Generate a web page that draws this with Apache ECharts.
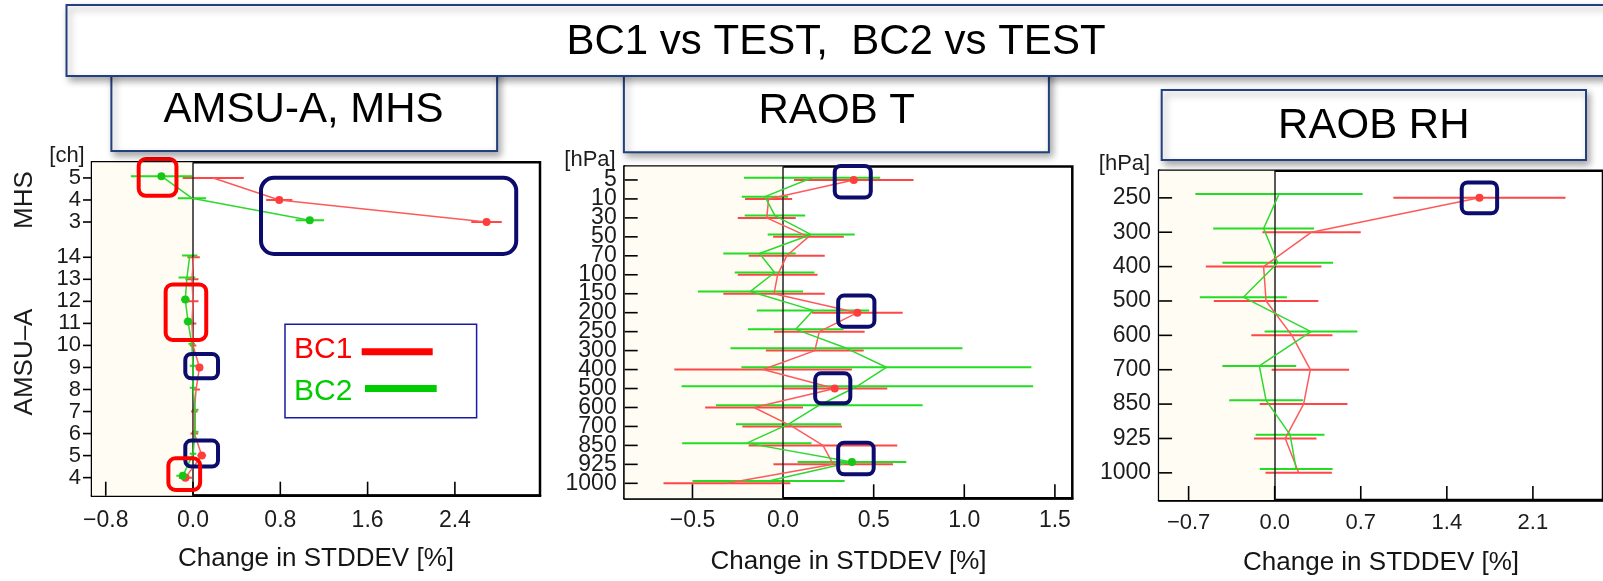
<!DOCTYPE html>
<html>
<head>
<meta charset="utf-8">
<script src="https://cdn.jsdelivr.net/npm/echarts@6/dist/echarts.min.js"></script>
<style>
  html, body { margin: 0; padding: 0; background: #fff; }
  #chart { width: 1603px; height: 581px; }
</style>
</head>
<body>
<div id="chart"></div>
<script>
// ---- AMSU-A / MHS radiance channels: change in STDDEV [%] ----
const amsuChannels = [4, 5, 6, 7, 8, 9, 10, 11, 12, 13, 14];
const amsuBC1    = [-0.07, 0.08, 0.012, 0.012, 0.028, 0.059, 0.0, -0.01, 0.0, -0.01, 0.005];
const amsuBC1Err = [0.06, 0.04, 0.035, 0.03, 0.035, 0.03, 0.03, 0.04, 0.05, 0.06, 0.057];
const amsuBC2    = [-0.093, 0.0, 0.02, 0.02, 0.0, 0.0, -0.012, -0.046, -0.071, -0.056, -0.03];
const amsuBC2Err = [0.06, 0.03, 0.03, 0.03, 0.03, 0.03, 0.03, 0.04, 0.04, 0.077, 0.07];
const amsuBC1Sig = [4, 5, 9];
const amsuBC2Sig = [4, 11, 12];

const mhsChannels = [3, 4, 5];
const mhsBC1    = [2.69, 0.79, 0.185];
const mhsBC1Err = [0.14, 0.12, 0.28];
const mhsBC2    = [1.07, -0.01, -0.29];
const mhsBC2Err = [0.13, 0.13, 0.28];
const mhsBC1Sig = [3, 4];
const mhsBC2Sig = [3, 5];

// ---- Radiosonde temperature ----
const tempLevels = [5, 10, 30, 50, 70, 100, 150, 200, 250, 300, 400, 500, 600, 700, 850, 925, 1000];
const tempBC1    = [0.39, -0.08, -0.09, 0.14, 0.02, -0.03, -0.05, 0.41, 0.2, 0.175, -0.11, 0.285, -0.16, 0.05, 0.22, 0.277, -0.31];
const tempBC1Err = [0.33, 0.13, 0.16, 0.195, 0.21, 0.22, 0.28, 0.25, 0.25, 0.27, 0.49, 0.29, 0.27, 0.275, 0.41, 0.33, 0.35];
const tempBC2    = [0.16, -0.1, -0.045, 0.155, -0.13, -0.047, -0.18, 0.165, 0.07, 0.35, 0.57, 0.41, 0.2, 0.03, -0.2, 0.38, -0.08];
const tempBC2Err = [0.376, 0.128, 0.167, 0.24, 0.2, 0.22, 0.29, 0.31, 0.264, 0.64, 0.8, 0.97, 0.57, 0.29, 0.357, 0.3, 0.42];
const tempBC1Sig = [5, 200, 500];
const tempBC2Sig = [925];

// ---- Radiosonde relative humidity ----
const rhLevels = [250, 300, 400, 500, 600, 700, 850, 925, 1000];
const rhBC1    = [1.665, 0.30, -0.09, -0.07, 0.14, 0.29, 0.235, 0.086, 0.195];
const rhBC1Err = [0.70, 0.40, 0.47, 0.425, 0.33, 0.315, 0.357, 0.254, 0.27];
const rhBC2    = [0.035, -0.09, 0.025, -0.255, 0.295, -0.125, -0.07, 0.125, 0.175];
const rhBC2Err = [0.68, 0.41, 0.45, 0.354, 0.377, 0.30, 0.30, 0.28, 0.296];
const rhBC1Sig = [250];
const rhBC2Sig = [];

// ---- tick values and text ----
const ampTicks  = [-0.8, 0, 0.8, 1.6, 2.4];
const tempTicks = [-0.5, 0, 0.5, 1.0, 1.5];
const rhTicks   = [-0.7, 0, 0.7, 1.4, 2.1];
const mainTitle = 'BC1 vs TEST,  BC2 vs TEST';
const panelTitles = ['AMSU-A, MHS', 'RAOB T', 'RAOB RH'];
const xName = 'Change in STDDEV [%]';

const FONT = '"Liberation Sans", Arial, Helvetica, sans-serif';
const RED_LINE = '#ff5a5a';
const RED_BAR = '#ff4646';
const RED_DOT = '#ff3d3d';
const GREEN_LINE = '#2ed82e';
const GREEN_BAR = '#22dd22';
const GREEN_DOT = '#16c816';
const NAVY = '#0c0c6c';
const BOX_BORDER = '#23407e';
const LABEL_COLOR = '#1c1c1c';

// vertical slot of each row on its panel (panel 1 leaves a gap between instruments)
const amsuPos = amsuChannels.map(c => c - 4);
const mhsPos = mhsChannels.map(c => c + 8.6);
const tempPos = tempLevels.map((_, i) => i);
const rhPos = rhLevels.map((_, i) => i);

const panels = [
  {
    grid: { left: 92, top: 162.3, width: 448, height: 333.4 },
    xMin: -0.926, xMax: 3.18, xTicks: ampTicks,
    yMin: -0.82, yMax: 14.31, inverse: false,
    yTickPos: amsuPos.concat(mhsPos),
    yTickText: amsuChannels.concat(mhsChannels).map(String),
    labelLayers: 1,
    greenShift: 0.08,
    xFont: 23, yFont: 22, yInside: false, yTickLen: 9, yMargin: 11, xMargin: 13, nameGap: 50,
    groups: [
      { pos: amsuPos, keys: amsuChannels, bc1: amsuBC1, bc1e: amsuBC1Err, bc2: amsuBC2, bc2e: amsuBC2Err, s1: amsuBC1Sig, s2: amsuBC2Sig },
      { pos: mhsPos, keys: mhsChannels, bc1: mhsBC1, bc1e: mhsBC1Err, bc2: mhsBC2, bc2e: mhsBC2Err, s1: mhsBC1Sig, s2: mhsBC2Sig }
    ]
  },
  {
    grid: { left: 624.7, top: 166.5, width: 447.6, height: 331.8 },
    xMin: -0.874, xMax: 1.596, xTicks: tempTicks,
    yMin: -0.71, yMax: 16.79, inverse: true,
    yTickPos: tempPos, yTickText: tempLevels.map(String),
    labelLayers: 2,   // closely packed levels: alternate rows on two stacked label axes
    greenShift: -0.12,
    xFont: 23, yFont: 23, yInside: true, yTickLen: 13, yMargin: 8, xMargin: 11, nameGap: 51,
    groups: [
      { pos: tempPos, keys: tempLevels, bc1: tempBC1, bc1e: tempBC1Err, bc2: tempBC2, bc2e: tempBC2Err, s1: tempBC1Sig, s2: tempBC2Sig }
    ]
  },
  {
    grid: { left: 1159.1, top: 170.7, width: 448, height: 333.6 },
    xMin: -0.94, xMax: 2.67, xTicks: rhTicks,
    yMin: -0.79, yMax: 8.79, inverse: true,
    yTickPos: rhPos, yTickText: rhLevels.map(String),
    labelLayers: 1,
    greenShift: -0.11,
    xFont: 22, yFont: 23, yInside: true, yTickLen: 13, yMargin: 8, xMargin: 12, nameGap: 50,
    groups: [
      { pos: rhPos, keys: rhLevels, bc1: rhBC1, bc1e: rhBC1Err, bc2: rhBC2, bc2e: rhBC2Err, s1: rhBC1Sig, s2: rhBC2Sig }
    ]
  }
];

// emphasised points: [panel, xFrom, xTo, yFrom, yTo, colour, corner radius] in axis units
const highlights = [
  [0, -0.498, -0.152, 14.46, 12.79, '#ff0000', 7],
  [0, 0.623, 2.962, 13.61, 10.15, NAVY, 13],
  [0, -0.251, 0.121, 8.77, 6.25, '#ff0000', 7],
  [0, -0.071, 0.229, 5.61, 4.51, NAVY, 6],
  [0, -0.071, 0.229, 1.68, 0.50, NAVY, 6],
  [0, -0.226, 0.065, 0.88, -0.56, '#ff0000', 7],
  [1, 0.285, 0.484, -0.74, 0.93, NAVY, 6],
  [1, 0.304, 0.504, 6.10, 7.74, NAVY, 6],
  [1, 0.177, 0.371, 10.2, 11.78, NAVY, 6],
  [1, 0.304, 0.500, 13.86, 15.52, NAVY, 6],
  [2, 1.521, 1.809, -0.45, 0.45, NAVY, 6]
];

function fmtTick(v) {
  const s = Math.abs(v).toFixed(1);
  return v < 0 ? '\u2212' + s : s;
}

const grids = [], xAxes = [], yAxes = [], series = [];
const axisLine = { show: true, onZero: false, lineStyle: { color: '#000', width: 2.5 } };

panels.forEach((p, gi) => {
  grids.push(Object.assign({
    show: true, borderColor: '#000', borderWidth: 2.5, backgroundColor: 'transparent', containLabel: false
  }, p.grid));

  xAxes.push({
    type: 'value', gridIndex: gi, min: p.xMin, max: p.xMax, position: 'bottom',
    axisLine: axisLine,
    splitLine: { show: false },
    axisTick: { show: false },
    axisLabel: { customValues: p.xTicks, formatter: fmtTick, fontSize: p.xFont, fontFamily: FONT, color: LABEL_COLOR, margin: p.xMargin },
    name: xName, nameLocation: 'middle', nameGap: p.nameGap,
    nameTextStyle: { fontSize: 26, fontFamily: FONT, color: '#151515' }
  });

  const yIndex = yAxes.length;
  p.yIndex = yIndex;
  for (let layer = 0; layer < p.labelLayers; layer++) {
    const vals = p.yTickPos.filter((_, i) => i % p.labelLayers === layer);
    yAxes.push({
      type: 'value', gridIndex: gi, min: p.yMin, max: p.yMax, inverse: p.inverse, position: 'left', offset: 0,
      axisLine: layer === 0 ? axisLine : { show: false, onZero: false },
      splitLine: { show: false },
      axisTick: { show: false },
      axisLabel: {
        customValues: vals,
        showMinLabel: true, showMaxLabel: true, hideOverlap: false,
        formatter: v => {
          const i = p.yTickPos.findIndex(t => Math.abs(t - v) < 1e-6);
          return i >= 0 ? p.yTickText[i] : '';
        },
        fontSize: p.yFont, fontFamily: FONT, color: LABEL_COLOR, margin: p.yMargin
      }
    });
  }

  // light shading of the negative half and the zero line
  series.push({
    type: 'line', xAxisIndex: gi, yAxisIndex: yIndex, z: 1, silent: true,
    data: p.groups[0].bc1.map((v, i) => [v, p.groups[0].pos[i]]),
    showSymbol: false, lineStyle: { opacity: 0 },
    markArea: {
      silent: true, itemStyle: { color: '#fffdf3' },
      data: [[{ xAxis: p.xMin }, { xAxis: 0 }]]
    },
    markLine: {
      silent: true, symbol: ['none', 'none'], label: { show: false },
      lineStyle: { color: '#222', width: 1.5, type: 'solid' },
      data: [{ xAxis: 0 }]
    }
  });

  p.groups.forEach(g => {
    const sets = [
      { name: 'BC1', vals: g.bc1, errs: g.bc1e, sig: g.s1, shift: 0, line: RED_LINE, bar: RED_BAR, dot: RED_DOT },
      { name: 'BC2', vals: g.bc2, errs: g.bc2e, sig: g.s2, shift: p.greenShift, line: GREEN_LINE, bar: GREEN_BAR, dot: GREEN_DOT }
    ];
    sets.forEach((s, k) => {
      const rows = s.vals.map((v, i) => [v, g.pos[i] + s.shift, s.errs[i], g.keys[i]]);
      // error bars
      series.push({
        type: 'custom', name: s.name, xAxisIndex: gi, yAxisIndex: yIndex, z: 3 + k, silent: true, clip: true,
        data: rows,
        encode: { x: 0, y: 1 },
        renderItem: (params, api) => {
          const v = api.value(0), y = api.value(1), e = api.value(2);
          const a = api.coord([v - e, y]);
          const b = api.coord([v + e, y]);
          return {
            type: 'line',
            shape: { x1: a[0], y1: a[1], x2: b[0], y2: b[1] },
            style: { stroke: s.bar, lineWidth: 2 }
          };
        }
      });
      // profile line with dots on significant rows
      series.push({
        type: 'line', name: s.name, xAxisIndex: gi, yAxisIndex: yIndex, z: 5 + k, silent: true,
        data: rows.map(r => ({
          value: [r[0], r[1]],
          symbol: s.sig.indexOf(r[3]) >= 0 ? 'circle' : 'none',
          symbolSize: 8
        })),
        itemStyle: { color: s.dot },
        lineStyle: { color: s.line, width: 1.5 },
        animation: false
      });
    });
  });
});

const chart = echarts.init(document.getElementById('chart'), null, { renderer: 'canvas' });
chart.setOption({
  animation: false,
  backgroundColor: '#ffffff',
  grid: grids, xAxis: xAxes, yAxis: yAxes, series: series
});

// ---- tick marks, titles, labels, legend and highlight frames ----
const graphics = [];
const tickStyle = { stroke: '#000', lineWidth: 1.6 };

panels.forEach((p, gi) => {
  const finder = { gridIndex: gi };
  const yBottom = p.inverse ? p.yMax : p.yMin;
  // value-axis ticks point up into the plot
  p.xTicks.forEach(v => {
    const pt = chart.convertToPixel(finder, [v, yBottom]);
    graphics.push({ type: 'line', z: 40, silent: true, shape: { x1: pt[0], y1: pt[1], x2: pt[0], y2: pt[1] - 14 }, style: tickStyle });
  });
  // level-axis ticks
  const dir = p.yInside ? 1 : -1;
  p.yTickPos.forEach(v => {
    const pt = chart.convertToPixel(finder, [p.xMin, v]);
    graphics.push({ type: 'line', z: 40, silent: true, shape: { x1: pt[0], y1: pt[1], x2: pt[0] + dir * p.yTickLen, y2: pt[1] }, style: tickStyle });
  });
});

const shadow = { shadowBlur: 7, shadowOffsetX: 3, shadowOffsetY: 4, shadowColor: 'rgba(0,0,0,0.35)' };

function titleBox(x, y, w, h, text, tx, ty, z) {
  graphics.push({
    type: 'rect', z: z, shape: { x: x, y: y, width: w, height: h },
    style: Object.assign({ fill: '#fff', stroke: BOX_BORDER, lineWidth: 2 }, shadow)
  });
  graphics.push({
    type: 'text', z: z + 1, x: tx, y: ty,
    style: { text: text, align: 'center', verticalAlign: 'middle', font: '42px ' + FONT, fill: '#000' }
  });
}
titleBox(111.4, 50, 385.7, 101, panelTitles[0], 303.6, 110, 100);
titleBox(623.9, 50, 425, 102.3, panelTitles[1], 836.8, 111.5, 100);
titleBox(1161.7, 90, 424.3, 70, panelTitles[2], 1373.8, 126.5, 100);
titleBox(66.5, 5, 1580, 71, mainTitle, 836, 42.5, 110);

function plainText(text, x, y, size, rot) {
  graphics.push({
    type: 'text', z: 50, x: x, y: y, rotation: rot || 0,
    style: { text: text, align: 'center', verticalAlign: 'middle', font: size + 'px ' + FONT, fill: LABEL_COLOR }
  });
}
plainText('[ch]', 67, 156, 22);
plainText('[hPa]', 590, 159.6, 22);
plainText('[hPa]', 1124.5, 164, 22);
plainText('MHS', 24.5, 200, 26, Math.PI / 2);
plainText('AMSU\u2013A', 24.5, 362, 26, Math.PI / 2);

// legend panel
graphics.push({
  type: 'rect', z: 60, shape: { x: 285, y: 324.3, width: 191.6, height: 93.4 },
  style: { fill: '#fff', stroke: '#1a1aa8', lineWidth: 1.5 }
});
graphics.push({ type: 'text', z: 61, x: 294, y: 350, style: { text: 'BC1', align: 'left', verticalAlign: 'middle', font: '30px ' + FONT, fill: '#ff0000' } });
graphics.push({ type: 'rect', z: 61, shape: { x: 361.7, y: 348.2, width: 71, height: 7 }, style: { fill: '#ff0000' } });
graphics.push({ type: 'text', z: 61, x: 294, y: 391.5, style: { text: 'BC2', align: 'left', verticalAlign: 'middle', font: '30px ' + FONT, fill: '#00cc00' } });
graphics.push({ type: 'rect', z: 61, shape: { x: 365, y: 385, width: 71.7, height: 7 }, style: { fill: '#00cc00' } });

highlights.forEach(h => {
  const a = chart.convertToPixel({ gridIndex: h[0] }, [h[1], h[3]]);
  const b = chart.convertToPixel({ gridIndex: h[0] }, [h[2], h[4]]);
  const x = Math.min(a[0], b[0]), y = Math.min(a[1], b[1]);
  graphics.push({
    type: 'rect', z: 70,
    shape: { x: x, y: y, width: Math.abs(b[0] - a[0]), height: Math.abs(b[1] - a[1]), r: h[6] },
    style: { fill: 'none', stroke: h[5], lineWidth: 4 }
  });
});

chart.setOption({ graphic: graphics });
</script>
</body>
</html>
